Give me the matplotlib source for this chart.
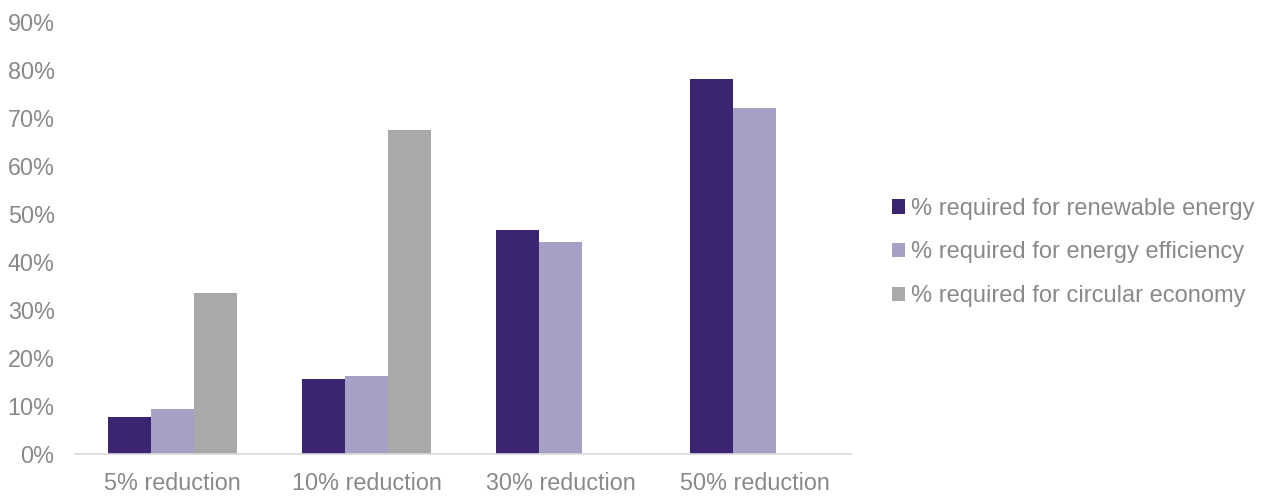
import matplotlib
matplotlib.use("Agg")
import matplotlib.pyplot as plt
import numpy as np
from matplotlib.patches import Patch

categories = ["5% reduction", "10% reduction", "30% reduction", "50% reduction"]
renewable = [7.7, 15.6, 46.7, 78.1]
efficiency = [9.3, 16.2, 44.1, 72.0]
circular = [33.6, 67.5, np.nan, np.nan]
series_names = ["% required for renewable energy",
                "% required for energy efficiency",
                "% required for circular economy"]
colors = ["#3B2472", "#A5A0C5", "#A9A9A8"]
text_color = "#898989"

plt.rcParams["font.family"] = ["Liberation Sans", "DejaVu Sans"]

fig = plt.figure(figsize=(12.68, 4.99), dpi=100)
ax = fig.add_axes([0.0595, 0.0902, 0.612, 0.8657])

x = np.arange(len(categories))
w = 0.222
for i, (vals, c) in enumerate(zip([renewable, efficiency, circular], colors)):
    ax.bar(x + (i - 1) * w, vals, width=w, color=c, label=series_names[i])

ax.set_xlim(-0.5, len(categories) - 0.5)
ax.set_ylim(0, 90)
ax.set_yticks(np.arange(0, 91, 10))
ax.set_yticklabels([f"{v}%" for v in range(0, 91, 10)])
ax.set_xticks(x)
ax.set_xticklabels(categories)
ax.tick_params(axis="both", length=0, labelsize=16.8, colors=text_color)
ax.tick_params(axis="y", pad=15)
ax.tick_params(axis="x", pad=13)
for s in ["top", "right", "left"]:
    ax.spines[s].set_visible(False)
ax.spines["bottom"].set_color("#D9D9D9")
ax.spines["bottom"].set_linewidth(1.2)

handles = [Patch(facecolor=c, edgecolor="none") for c in colors]
leg = fig.legend(handles, series_names, loc="center left",
                 bbox_to_anchor=(0.687, 0.494), frameon=False,
                 fontsize=17, handlelength=0.55, handleheight=0.55,
                 handletextpad=0.25, labelspacing=0.92)
for t in leg.get_texts():
    t.set_color(text_color)

fig.savefig("out.png", dpi=100)
